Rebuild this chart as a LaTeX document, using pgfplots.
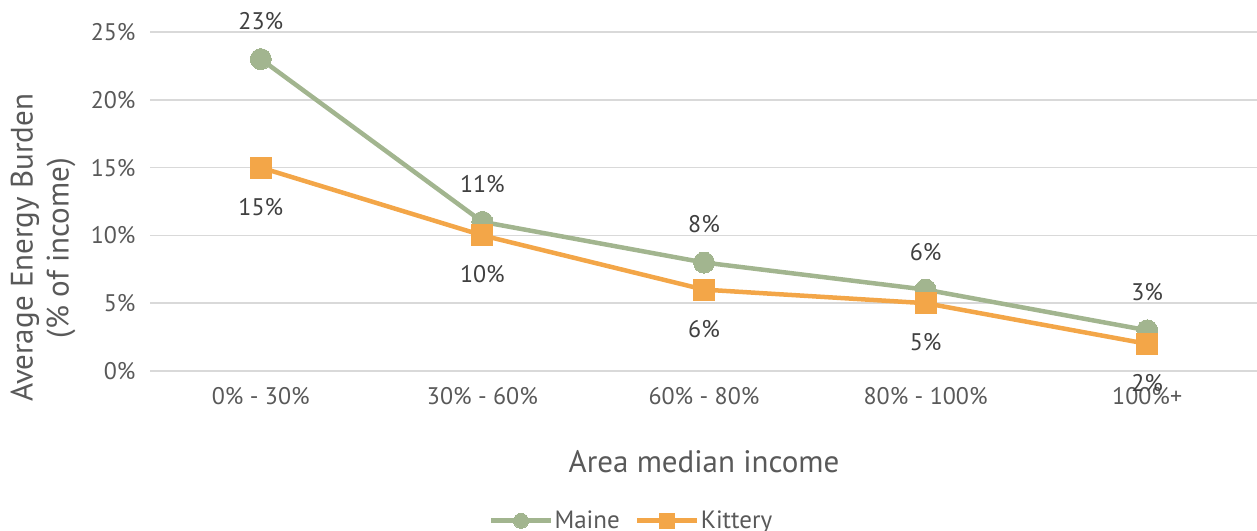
\documentclass[border=0pt]{standalone}
\usepackage{pgfplots}
\pgfplotsset{compat=1.18}
\usepackage{fontspec}
\setmainfont{PT Sans}

\definecolor{maine}{RGB}{162,181,143}
\definecolor{kittery}{RGB}{243,166,72}
\definecolor{gridgray}{RGB}{217,217,217}
\definecolor{ticktext}{RGB}{89,89,89}
\definecolor{labeltext}{RGB}{64,64,64}

\pgfplotstableread{
x maine kittery
0 23 15
1 11 10
2 8  6
3 6  5
4 3  2
}\burden

\newcommand{\fs}[1]{\fontsize{#1bp}{#1bp}\selectfont}

\begin{document}
\begin{tikzpicture}[x=1bp,y=1bp]
\begin{axis}[
  at={(150bp,160bp)}, anchor=south west,
  scale only axis,
  width=1108bp, height=339bp,
  xmin=-0.5, xmax=4.5,
  ymin=0, ymax=25,
  ytick={0,5,10,15,20,25},
  yticklabel={\pgfmathprintnumber{\tick}\%},
  xtick={0,1,2,3,4},
  xticklabels={0\% - 30\%, 30\% - 60\%, 60\% - 80\%, 80\% - 100\%, 100\%+},
  /pgf/number format/assume math mode=true,
  tick style={draw=none},
  axis line style={draw=none},
  ymajorgrids,
  grid style={gridgray, line width=1.5bp},
  tick label style={font=\fs{24}, text=ticktext},
  yticklabel style={xshift=-11bp},
  xticklabel style={yshift=-13bp},
  clip=false,
  legend columns=2,
  legend style={
    at={(axis description cs:0.434,-0.442)}, anchor=center,
    draw=none, fill=none, font=\fs{25}, text=ticktext,
    /tikz/every even column/.append style={column sep=14bp},
    nodes={inner sep=1bp},
    inner sep=0pt,
  },
  legend image code/.code={
    \draw[mark repeat=2,mark phase=2, mark size=7.5bp, line width=5bp]
      plot coordinates {(0bp,0bp)(30bp,0bp)(60bp,0bp)};
  },
  nodes near coords={\pgfmathprintnumber{\pgfplotspointmeta}\%},
  point meta=y,
]
\addplot[color=maine, line width=4.5bp, mark=*, mark size=10.5bp,
  mark options={fill=maine, draw=maine, line width=0bp},
  every node near coord/.append style={anchor=center, yshift=38bp, font=\fs{24}, text=labeltext, /pgf/number format/assume math mode=true}]
  table[x=x, y=maine] {\burden};
\addlegendentry{Maine}
\addplot[color=kittery, line width=4.5bp, mark=square*, mark size=10.5bp,
  mark options={fill=kittery, draw=kittery, line width=0bp},
  every node near coord/.append style={anchor=center, yshift=-39bp, font=\fs{24}, text=labeltext, /pgf/number format/assume math mode=true}]
  table[x=x, y=kittery] {\burden};
\addlegendentry{Kittery}
\end{axis}
\node[rotate=90, align=center, font=\fs{31}, text=ticktext, inner sep=0pt]
  at (43,283) {Average Energy Burden\\[5bp](\% of income)};
\node[font=\fs{31}, text=ticktext, inner sep=0pt] at (704,69) {Area median income};
\pgfresetboundingbox
\path[use as bounding box] (0,0) rectangle (1257,531);
\end{tikzpicture}
\end{document}
